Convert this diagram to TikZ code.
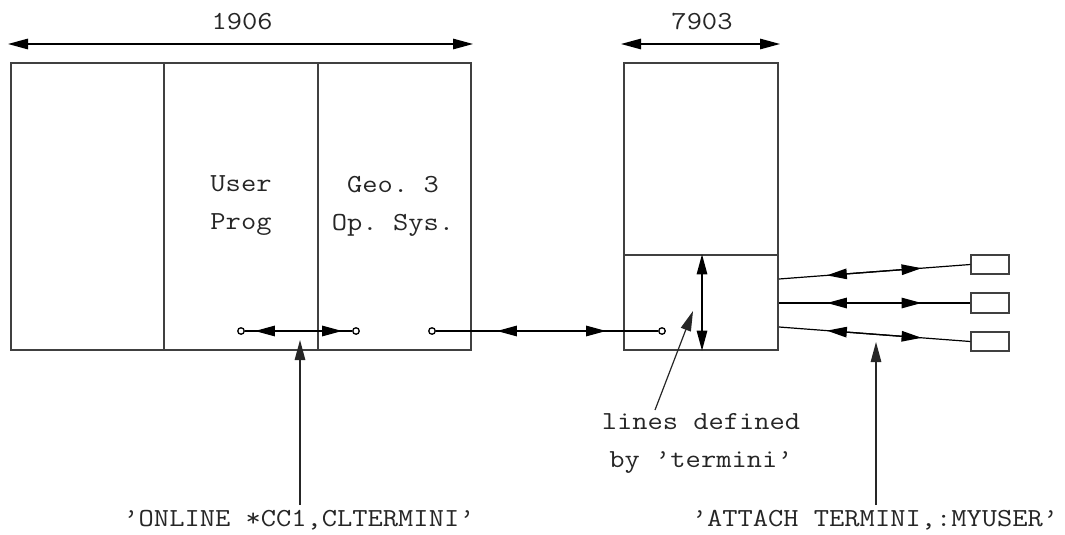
\documentclass[tikz,border=0pt]{standalone}
\usepackage{fontspec}
\setmonofont{Latin Modern Mono}[FakeStretch=1.14]
\usetikzlibrary{arrows.meta,calc}
\tikzset{
  ln/.style={draw=black!75, line width=1.3pt},
  box/.style={ln, rectangle, inner sep=0pt},
  dbl/.style={black, line width=1.3pt, {Triangle[length=20pt,width=10.5pt]}-{Triangle[length=20pt,width=10.5pt]}},
  up/.style={black!85, line width=1.2pt, -{Triangle[length=20pt,width=10.5pt]}},
  dot/.style={circle, draw=black, line width=1.3pt, minimum size=6.5pt, inner sep=0pt, fill=white},
  lbl/.style={font=\ttfamily\fontsize{26}{38}\selectfont, text=black!85, align=center, inner sep=0pt}
}
\begin{document}
\begin{tikzpicture}[x=1pt,y=-1pt]
\useasboundingbox (0,0) rectangle (1065,535);
% left box
\node[box, minimum width=153pt, minimum height=287pt] (b1) at (87.5,206.5) {};
\node[box, minimum width=154pt, minimum height=287pt] (b2) at (241,206.5) {};
\node[box, minimum width=153pt, minimum height=287pt] (b3) at (394.5,206.5) {};
% right box
\node[box, minimum width=154pt, minimum height=192pt] (r1) at (701,159) {};
\node[box, minimum width=154pt, minimum height=95pt] (r2) at (701,302.5) {};
% terminals
\node[box, minimum width=38pt, minimum height=19pt] (t1) at (990,264.5) {};
\node[box, minimum width=38pt, minimum height=20pt] (t2) at (990,303) {};
\node[box, minimum width=38pt, minimum height=19pt] (t3) at (990,341.5) {};
% box texts
\node[lbl] (ut) at (241,206) {User\\Prog};
\node[lbl] (gt) at (393,206) {Geo. 3\\Op. Sys.};
% dimension arrows
\coordinate (d1a) at (8,44); \coordinate (d1b) at (473,44);
\draw[dbl] (d1a) -- (d1b);
\node[lbl] (n1906) at (242,22) {1906};
\coordinate (d2a) at (621,44); \coordinate (d2b) at (780,44);
\draw[dbl] (d2a) -- (d2b);
\node[lbl] (n7903) at (702,22) {7903};
% dots
\node[dot] (c1) at (241,331) {};
\node[dot] (c2) at (356,331) {};
\node[dot] (c3) at (432,331) {};
\node[dot] (c4) at (662,331) {};
\draw[black, line width=1.2pt] (c1) -- (c2);
\draw[dbl, shorten <=10pt, shorten >=10pt] (c1) -- (c2);
\draw[black, line width=1.2pt] (c3) -- (c4);
\draw[dbl, shorten <=61pt, shorten >=52pt] (c3) -- (c4);
% vertical arrow in lower right box
\draw[dbl] (r2.north -| 702,0) -- (r2.south -| 702,0);
% terminal lines
\coordinate (e1) at (779,279);
\coordinate (e2) at (779,303);
\coordinate (e3) at (779,327);
\draw[black, line width=1.2pt] (e1) -- (t1.west);
\draw[black, line width=1.2pt] (e2) -- (t2.west);
\draw[black, line width=1.2pt] (e3) -- (t3.west);
\draw[dbl] ($(e1)!0.25!(t1.west)$) -- ($(e1)!0.745!(t1.west)$);
\draw[dbl] ($(e2)!0.25!(t2.west)$) -- ($(e2)!0.745!(t2.west)$);
\draw[dbl] ($(e3)!0.25!(t3.west)$) -- ($(e3)!0.745!(t3.west)$);
% labels and pointers
\node[lbl] (ld) at (701,443) {lines defined\\by ’termini’};
\coordinate (lp) at (655,410);
\coordinate (lq) at (693,311);
\draw[up] (lp) -- (lq);
\node[lbl] (on) at (299,520) {’ONLINE *CC1,CLTERMINI’};
\coordinate (op) at (300,505);
\coordinate (oq) at (300,340);
\draw[up] (op) -- (oq);
\node[lbl] (at) at (875,520) {’ATTACH TERMINI,:MYUSER’};
\coordinate (ap) at (876,505);
\coordinate (aq) at (876,342);
\draw[up] (ap) -- (aq);
\end{tikzpicture}
\end{document}
